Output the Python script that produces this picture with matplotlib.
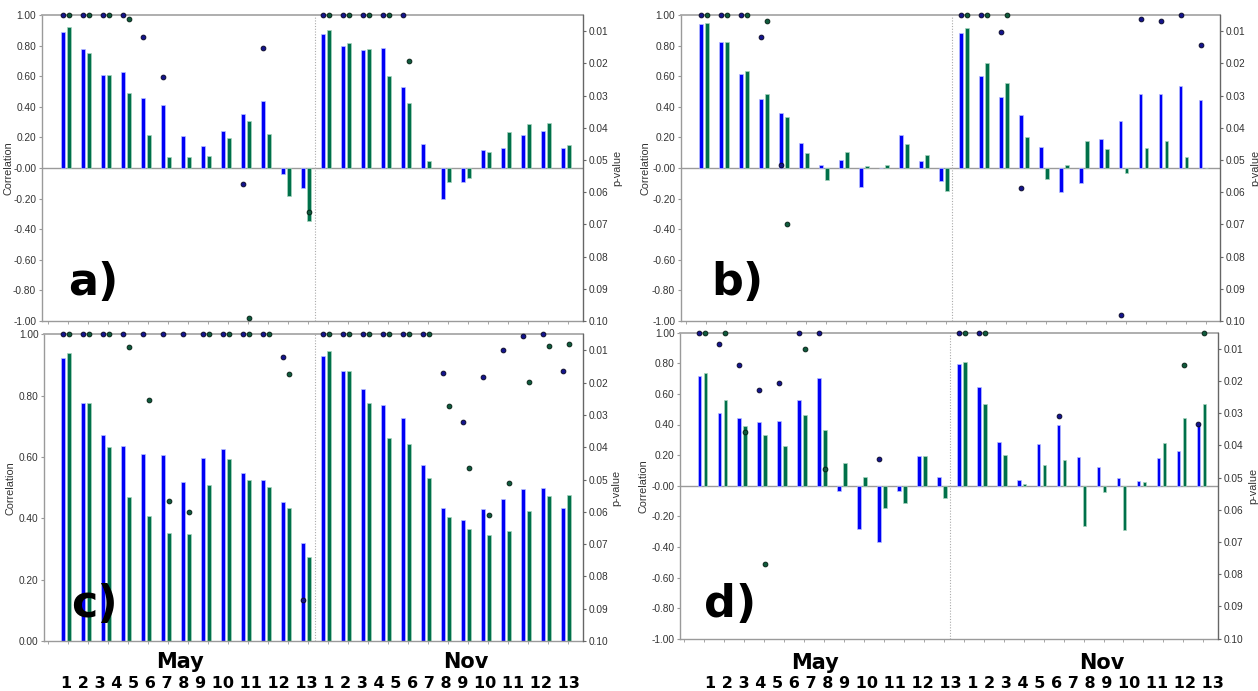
import numpy as np
import matplotlib
matplotlib.use('Agg')
import matplotlib.pyplot as plt

plt.rcParams['font.family'] = ['Liberation Sans', 'DejaVu Sans']
plt.rcParams['axes.unicode_minus'] = False

nan = np.nan
months = ['May', 'Nov']
steps = list(range(1, 14))

# ---------------- panel a ----------------
a_blue = [0.887, 0.778, 0.610, 0.630, 0.455, 0.412, 0.207, 0.146, 0.244, 0.351, 0.440, -0.039, -0.129,
          0.874, 0.800, 0.771, 0.782, 0.527, 0.155, -0.205, -0.092, 0.120, 0.133, 0.218, 0.240, 0.133]
a_green = [0.919, 0.752, 0.610, 0.488, 0.213, 0.074, 0.074, 0.076, 0.198, 0.307, 0.220, -0.183, -0.344,
           0.902, 0.815, 0.778, 0.599, 0.423, 0.048, -0.092, -0.065, 0.105, 0.237, 0.285, 0.296, 0.148]
a_pblue = [0.005, 0.005, 0.005, 0.005, 0.0117, 0.0241, nan, nan, nan, 0.0576, 0.0153, nan, nan,
           0.005, 0.005, 0.005, 0.005, 0.005, nan, nan, nan, nan, nan, nan, nan, nan]
a_pgreen = [0.005, 0.005, 0.005, 0.0062, nan, nan, nan, nan, nan, 0.0992, nan, nan, 0.0661,
            0.005, 0.005, 0.005, 0.005, 0.0194, nan, nan, nan, nan, nan, nan, nan, nan]

# ---------------- panel b ----------------
b_blue = [0.941, 0.826, 0.614, 0.453, 0.357, 0.161, 0.022, 0.050, -0.122, 0.003, 0.214, 0.044, -0.083,
          0.880, 0.601, 0.462, 0.349, 0.139, -0.155, -0.100, 0.192, 0.305, 0.486, 0.484, 0.534, 0.444]
b_green = [0.946, 0.824, 0.634, 0.484, 0.333, 0.096, -0.078, 0.107, 0.013, 0.022, 0.155, 0.085, -0.150,
           0.913, 0.684, 0.556, 0.205, -0.070, 0.017, 0.174, 0.126, -0.031, 0.133, 0.179, 0.074, 0.003]
b_pblue = [0.005, 0.005, 0.005, 0.0117, 0.0515, nan, nan, nan, nan, nan, nan, nan, nan,
           0.005, 0.005, 0.0102, 0.0588, nan, nan, nan, nan, 0.0981, 0.0062, 0.0068, 0.005, 0.0142]
b_pgreen = [0.005, 0.005, 0.005, 0.0068, 0.0700, nan, nan, nan, nan, nan, nan, nan, nan,
            0.005, 0.005, 0.005, nan, nan, nan, nan, nan, nan, nan, nan, nan, nan]

# ---------------- panel c ----------------
c_blue = [0.922, 0.777, 0.672, 0.636, 0.611, 0.605, 0.520, 0.596, 0.627, 0.547, 0.525, 0.453, 0.318,
          0.929, 0.880, 0.821, 0.770, 0.726, 0.575, 0.433, 0.393, 0.429, 0.463, 0.496, 0.498, 0.435]
c_green = [0.938, 0.777, 0.632, 0.470, 0.409, 0.353, 0.348, 0.509, 0.593, 0.525, 0.503, 0.433, 0.273,
           0.946, 0.880, 0.775, 0.661, 0.641, 0.530, 0.403, 0.366, 0.347, 0.360, 0.423, 0.472, 0.475]
c_pblue = [0.005, 0.005, 0.005, 0.005, 0.005, 0.005, 0.005, 0.005, 0.005, 0.005, 0.005, 0.0119, 0.0874,
           0.005, 0.005, 0.005, 0.005, 0.005, 0.005, 0.0170, 0.0323, 0.0182, 0.0099, 0.0054, 0.005, 0.0164]
c_pgreen = [0.005, 0.005, 0.005, 0.0090, 0.0253, 0.0566, 0.0599, 0.005, 0.005, 0.005, 0.005, 0.0172, nan,
            0.005, 0.005, 0.005, 0.005, 0.005, 0.005, 0.0271, 0.0464, 0.0609, 0.0512, 0.0199, 0.0086, 0.0081]

# ---------------- panel d ----------------
d_blue = [0.717, 0.473, 0.440, 0.414, 0.423, 0.562, 0.704, -0.033, -0.285, -0.370, -0.033, 0.192, 0.054,
          0.797, 0.645, 0.285, 0.037, 0.270, 0.394, 0.185, 0.122, 0.052, 0.028, 0.179, 0.229, 0.405]
d_green = [0.739, 0.562, 0.388, 0.329, 0.261, 0.462, 0.366, 0.146, 0.059, -0.144, -0.113, 0.194, -0.081,
           0.806, 0.534, 0.198, 0.011, 0.133, 0.168, -0.266, -0.039, -0.290, 0.024, 0.281, 0.440, 0.534]
d_pblue = [0.005, 0.0084, 0.0151, 0.0229, 0.0205, 0.005, 0.005, nan, nan, 0.0443, nan, nan, nan,
           0.005, 0.005, nan, nan, nan, 0.0310, nan, nan, nan, nan, nan, nan, 0.0332]
d_pgreen = [0.005, 0.005, 0.0358, 0.0767, nan, 0.0101, 0.0473, nan, nan, nan, nan, nan, nan,
            0.005, 0.005, nan, nan, nan, nan, nan, nan, nan, nan, nan, 0.0150, 0.005]

W, H = 1258, 691
fig = plt.figure(figsize=(W / 100, H / 100), dpi=100)


def rect_px(left, right, top, bottom):
    return [left / W, 1 - bottom / H, (right - left) / W, (bottom - top) / H]


panels = [
    dict(letter='a)', blue=a_blue, green=a_green, pb=a_pblue, pg=a_pgreen,
         rect=rect_px(41.7, 582.7, 15, 321), ylim=(-1, 1), xlim=(-1.23, 25.84),
         clx=-0.053, plx=1.054, lpos=(68, 295)),
    dict(letter='b)', blue=b_blue, green=b_green, pb=b_pblue, pg=b_pgreen,
         rect=rect_px(680.7, 1220, 15, 321), ylim=(-1, 1), xlim=(-1.17, 25.82),
         clx=-0.056, plx=1.056, lpos=(711, 295)),
    dict(letter='c)', blue=c_blue, green=c_green, pb=c_pblue, pg=c_pgreen,
         rect=rect_px(44.3, 582.7, 334.3, 641), ylim=(0, 1), xlim=(-1.10, 25.84),
         clx=-0.053, plx=1.054, lpos=(71, 617)),
    dict(letter='d)', blue=d_blue, green=d_green, pb=d_pblue, pg=d_pgreen,
         rect=rect_px(680, 1218.3, 332.7, 638.7), ylim=(-1, 1), xlim=(-1.12, 25.85),
         clx=-0.058, plx=1.055, lpos=(704, 617)),
]

BLUE = '#0000f5'
GREEN = '#00704a'
DOT_B = '#14148c'
DOT_G = '#0f5a3c'
TXT = '#333333'

for p in panels:
    ax = fig.add_axes(p['rect'])
    n = len(p['blue'])
    x = np.arange(n)
    ax.bar(x - 0.15, p['blue'], width=0.18, color=BLUE, edgecolor='#b8c0ff', linewidth=0.5, zorder=2)
    ax.bar(x + 0.15, p['green'], width=0.18, color=GREEN, edgecolor='#a8d4bf', linewidth=0.5, zorder=2)
    ax.set_xlim(*p['xlim'])
    ax.set_ylim(*p['ylim'])
    if p['ylim'][0] < 0:
        ax.axhline(0, color='#9a9a9a', lw=1.0, zorder=1)
    ax.axvline(12.43, color='#aaaaaa', lw=0.8, ls=(0, (1, 1.5)), zorder=1)
    ax.set_yticks(np.arange(p['ylim'][0], p['ylim'][1] + 0.001, 0.2))
    ax.yaxis.set_major_formatter(matplotlib.ticker.FormatStrFormatter('%.2f'))
    ax.set_xticks(np.arange(-1, 26) + 0.1)
    ax.set_xticklabels([])
    ax.tick_params(axis='x', length=2, color='#999999', width=0.6)
    ax.tick_params(axis='y', labelsize=7.3, labelcolor=TXT, length=2.5, color='#999999', width=0.8, pad=1.5)
    ax.set_ylabel('Correlation', fontsize=7.8, color=TXT)
    ax.yaxis.set_label_coords(p['clx'], 0.5)
    for s in ['left', 'bottom']:
        ax.spines[s].set_color('#9a9a9a')
        ax.spines[s].set_linewidth(1.0)
    ax.spines['top'].set_color('#a8a8a8')
    ax.spines['top'].set_linewidth(1.3)
    ax.spines['right'].set_visible(False)

    ax2 = ax.twinx()
    ax2.set_ylim(0.10, 0.005)
    ax2.set_yticks(np.arange(0.01, 0.1001, 0.01))
    ax2.yaxis.set_major_formatter(matplotlib.ticker.FormatStrFormatter('%.2f'))
    ax2.tick_params(axis='y', labelsize=7.3, labelcolor=TXT, length=2.5, color='#666666', width=0.8, pad=1.5)
    ax2.set_ylabel('p-value', fontsize=7.8, color=TXT, rotation=90)
    ax2.yaxis.set_label_coords(p['plx'], 0.5)
    for s in ['left', 'top', 'bottom']:
        ax2.spines[s].set_visible(False)
    ax2.spines['right'].set_color('#666666')
    ax2.spines['right'].set_linewidth(1.0)
    ax2.scatter(x - 0.15, p['pb'], s=12, color=DOT_B, edgecolors='#050520', linewidths=0.6,
                zorder=5, clip_on=False)
    ax2.scatter(x + 0.15, p['pg'], s=12, color=DOT_G, edgecolors='#021a10', linewidths=0.6,
                zorder=5, clip_on=False)

    lx, ly = p['lpos']
    fig.text(lx / W, 1 - ly / H, p['letter'], fontsize=32, fontweight='bold',
             family='DejaVu Sans', color='black', ha='left', va='baseline')

# bottom month labels and step numbers
num_str = ' '.join(str(s) for s in steps) + ' ' + ' '.join(str(s) for s in steps)
for mxs, base_m, pos_m in [((179.5, 466), 668, 61), ((815, 1102), 669, 705)]:
    for m, cx in zip(months, mxs):
        fig.text(cx / W, 1 - base_m / H, m, fontsize=15, fontweight='bold',
                 family='DejaVu Sans', ha='center', va='baseline')
    fig.text(pos_m / W, 1 - 688 / H, num_str, fontsize=11.5, fontweight='bold',
             family='DejaVu Sans', ha='left', va='baseline')

fig.savefig('out.png', dpi=100)
